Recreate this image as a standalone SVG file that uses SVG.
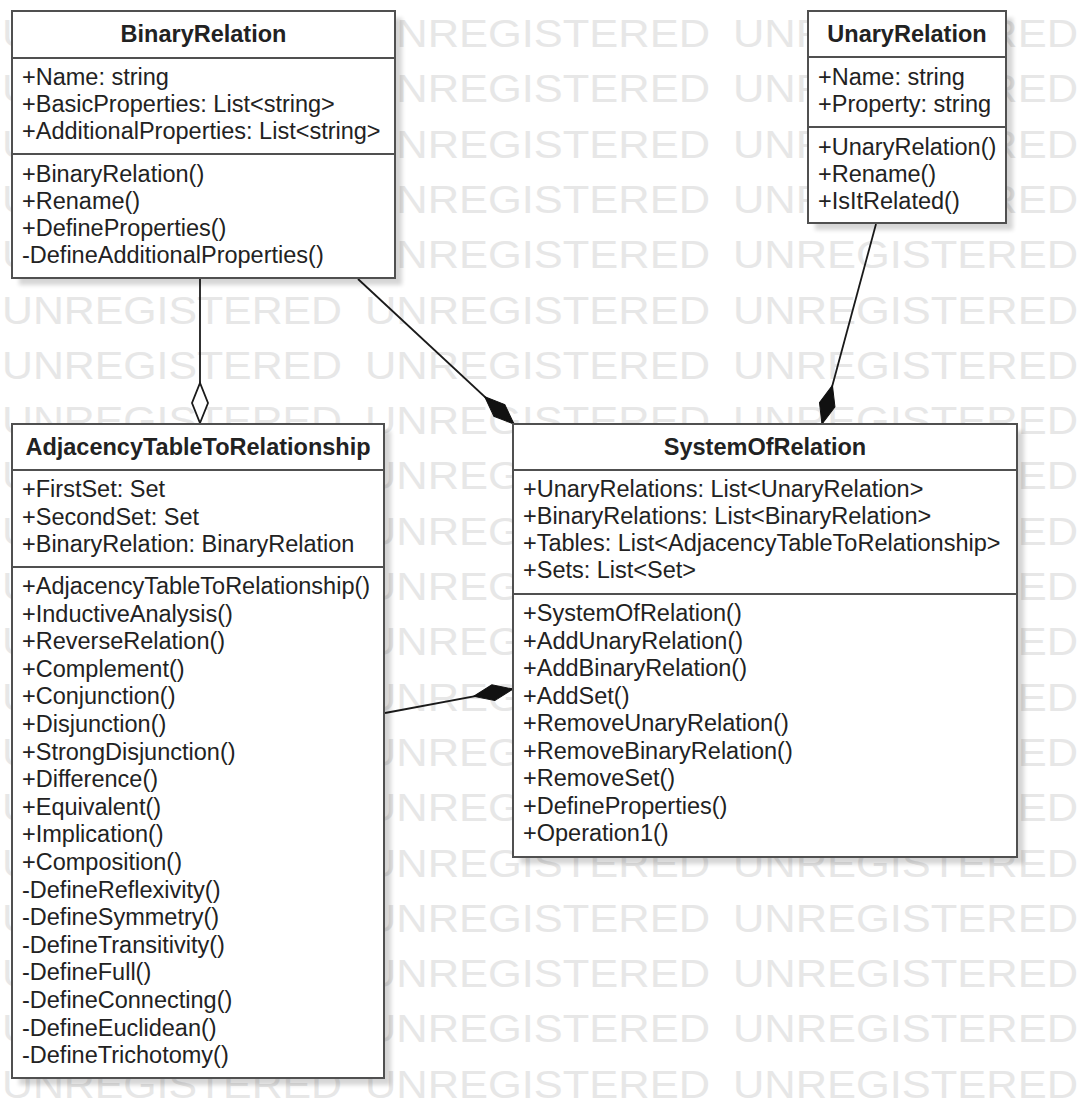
<svg xmlns="http://www.w3.org/2000/svg" xmlns:xlink="http://www.w3.org/1999/xlink" width="1080" height="1099" viewBox="0 0 1080 1099">
<style>
.wm{font-family:"Liberation Sans",Arial,sans-serif;font-size:39px;fill:#e7e7e7}
.box{fill:#fff;stroke:#505050;stroke-width:2}
.sep{stroke:#505050;stroke-width:2}
.shadow{fill:#000;opacity:0.16;filter:url(#blur)}
.t{font-family:"Liberation Sans",Arial,sans-serif;font-size:23.5px;fill:#222}
.title{font-weight:bold;text-anchor:middle}
.conn{stroke:#1a1a1a;stroke-width:1.8;fill:none}
</style>
<defs>
<filter id="blur" x="-10%" y="-10%" width="120%" height="120%"><feGaussianBlur stdDeviation="2"/></filter>
<marker id="comp" markerUnits="userSpaceOnUse" markerWidth="44" markerHeight="20" viewBox="-42 -10 44 20" refX="0" refY="0" orient="auto" overflow="visible">
<path d="M0,0 L-20,-8 L-40,0 L-20,8 Z" fill="#111" stroke="#111" stroke-width="1"/>
</marker>
<marker id="agg" markerUnits="userSpaceOnUse" markerWidth="44" markerHeight="20" viewBox="-42 -10 44 20" refX="0" refY="0" orient="auto" overflow="visible">
<path d="M0,0 L-20,-8 L-40,0 L-20,8 Z" fill="#fff" stroke="#1a1a1a" stroke-width="1.8"/>
</marker>
<g id="wmrow">
<text class="wm" x="2" y="0" textLength="340" lengthAdjust="spacingAndGlyphs">UNREGISTERED</text>
<text class="wm" x="365" y="0" textLength="345" lengthAdjust="spacingAndGlyphs">UNREGISTERED</text>
<text class="wm" x="733" y="0" textLength="345" lengthAdjust="spacingAndGlyphs">UNREGISTERED</text>
</g>
</defs>
<rect x="0" y="0" width="1080" height="1099" fill="#fff"/>
<g id="watermark">
<use xlink:href="#wmrow" y="47"/>
<use xlink:href="#wmrow" y="102.3"/>
<use xlink:href="#wmrow" y="157.6"/>
<use xlink:href="#wmrow" y="212.9"/>
<use xlink:href="#wmrow" y="268.2"/>
<use xlink:href="#wmrow" y="323.5"/>
<use xlink:href="#wmrow" y="378.8"/>
<use xlink:href="#wmrow" y="434.1"/>
<use xlink:href="#wmrow" y="489.4"/>
<use xlink:href="#wmrow" y="544.7"/>
<use xlink:href="#wmrow" y="600"/>
<use xlink:href="#wmrow" y="655.3"/>
<use xlink:href="#wmrow" y="710.6"/>
<use xlink:href="#wmrow" y="765.9"/>
<use xlink:href="#wmrow" y="821.2"/>
<use xlink:href="#wmrow" y="876.5"/>
<use xlink:href="#wmrow" y="931.8"/>
<use xlink:href="#wmrow" y="987.1"/>
<use xlink:href="#wmrow" y="1042.4"/>
<use xlink:href="#wmrow" y="1097.7"/>
</g>
<g id="connectors">
<line class="conn" x1="200" y1="279" x2="200" y2="423" marker-end="url(#agg)"/>
<line class="conn" x1="358" y1="279" x2="514" y2="424" marker-end="url(#comp)"/>
<line class="conn" x1="876" y1="224" x2="822" y2="424" marker-end="url(#comp)"/>
<line class="conn" x1="385" y1="713" x2="513" y2="689" marker-end="url(#comp)"/>
</g>
<g id="BinaryRelation">
<rect class="shadow" x="19" y="18" width="383" height="267"/>
<rect class="box" x="12" y="11" width="383" height="267"/>
<line class="sep" x1="12" y1="58" x2="395" y2="58"/>
<line class="sep" x1="12" y1="154" x2="395" y2="154"/>
<text class="t title" x="203.5" y="42">BinaryRelation</text>
<text class="t" x="22" y="85">+Name: string</text>
<text class="t" x="22" y="112">+BasicProperties: List&lt;string&gt;</text>
<text class="t" x="22" y="139">+AdditionalProperties: List&lt;string&gt;</text>
<text class="t" x="22" y="182">+BinaryRelation()</text>
<text class="t" x="22" y="209">+Rename()</text>
<text class="t" x="22" y="236">+DefineProperties()</text>
<text class="t" x="22" y="263">-DefineAdditionalProperties()</text>
</g>
<g id="UnaryRelation">
<rect class="shadow" x="815" y="18" width="198" height="212"/>
<rect class="box" x="808" y="11" width="198" height="212"/>
<line class="sep" x1="808" y1="57" x2="1006" y2="57"/>
<line class="sep" x1="808" y1="127" x2="1006" y2="127"/>
<text class="t title" x="907" y="42">UnaryRelation</text>
<text class="t" x="818" y="85">+Name: string</text>
<text class="t" x="818" y="112">+Property: string</text>
<text class="t" x="818" y="155">+UnaryRelation()</text>
<text class="t" x="818" y="182">+Rename()</text>
<text class="t" x="818" y="209">+IsItRelated()</text>
</g>
<g id="AdjacencyTableToRelationship">
<rect class="shadow" x="19" y="431" width="372" height="654"/>
<rect class="box" x="12" y="424" width="372" height="654"/>
<line class="sep" x1="12" y1="470" x2="384" y2="470"/>
<line class="sep" x1="12" y1="567" x2="384" y2="567"/>
<text class="t title" x="198" y="455">AdjacencyTableToRelationship</text>
<text class="t" x="22" y="497">+FirstSet: Set</text>
<text class="t" x="22" y="524.5">+SecondSet: Set</text>
<text class="t" x="22" y="552">+BinaryRelation: BinaryRelation</text>
<text class="t" x="22" y="594">+AdjacencyTableToRelationship()</text>
<text class="t" x="22" y="621.6">+InductiveAnalysis()</text>
<text class="t" x="22" y="649.2">+ReverseRelation()</text>
<text class="t" x="22" y="676.8">+Complement()</text>
<text class="t" x="22" y="704.4">+Conjunction()</text>
<text class="t" x="22" y="732">+Disjunction()</text>
<text class="t" x="22" y="759.6">+StrongDisjunction()</text>
<text class="t" x="22" y="787.2">+Difference()</text>
<text class="t" x="22" y="814.8">+Equivalent()</text>
<text class="t" x="22" y="842.4">+Implication()</text>
<text class="t" x="22" y="870">+Composition()</text>
<text class="t" x="22" y="897.6">-DefineReflexivity()</text>
<text class="t" x="22" y="925.2">-DefineSymmetry()</text>
<text class="t" x="22" y="952.8">-DefineTransitivity()</text>
<text class="t" x="22" y="980.4">-DefineFull()</text>
<text class="t" x="22" y="1008">-DefineConnecting()</text>
<text class="t" x="22" y="1035.6">-DefineEuclidean()</text>
<text class="t" x="22" y="1063.2">-DefineTrichotomy()</text>
</g>
<g id="SystemOfRelation">
<rect class="shadow" x="520" y="431" width="504" height="433"/>
<rect class="box" x="513" y="424" width="504" height="433"/>
<line class="sep" x1="513" y1="470" x2="1017" y2="470"/>
<line class="sep" x1="513" y1="594" x2="1017" y2="594"/>
<text class="t title" x="765" y="455">SystemOfRelation</text>
<text class="t" x="523" y="497">+UnaryRelations: List&lt;UnaryRelation&gt;</text>
<text class="t" x="523" y="524">+BinaryRelations: List&lt;BinaryRelation&gt;</text>
<text class="t" x="523" y="551">+Tables: List&lt;AdjacencyTableToRelationship&gt;</text>
<text class="t" x="523" y="578">+Sets: List&lt;Set&gt;</text>
<text class="t" x="523" y="621">+SystemOfRelation()</text>
<text class="t" x="523" y="648.5">+AddUnaryRelation()</text>
<text class="t" x="523" y="676">+AddBinaryRelation()</text>
<text class="t" x="523" y="703.5">+AddSet()</text>
<text class="t" x="523" y="731">+RemoveUnaryRelation()</text>
<text class="t" x="523" y="758.5">+RemoveBinaryRelation()</text>
<text class="t" x="523" y="786">+RemoveSet()</text>
<text class="t" x="523" y="813.5">+DefineProperties()</text>
<text class="t" x="523" y="841">+Operation1()</text>
</g>
</svg>
